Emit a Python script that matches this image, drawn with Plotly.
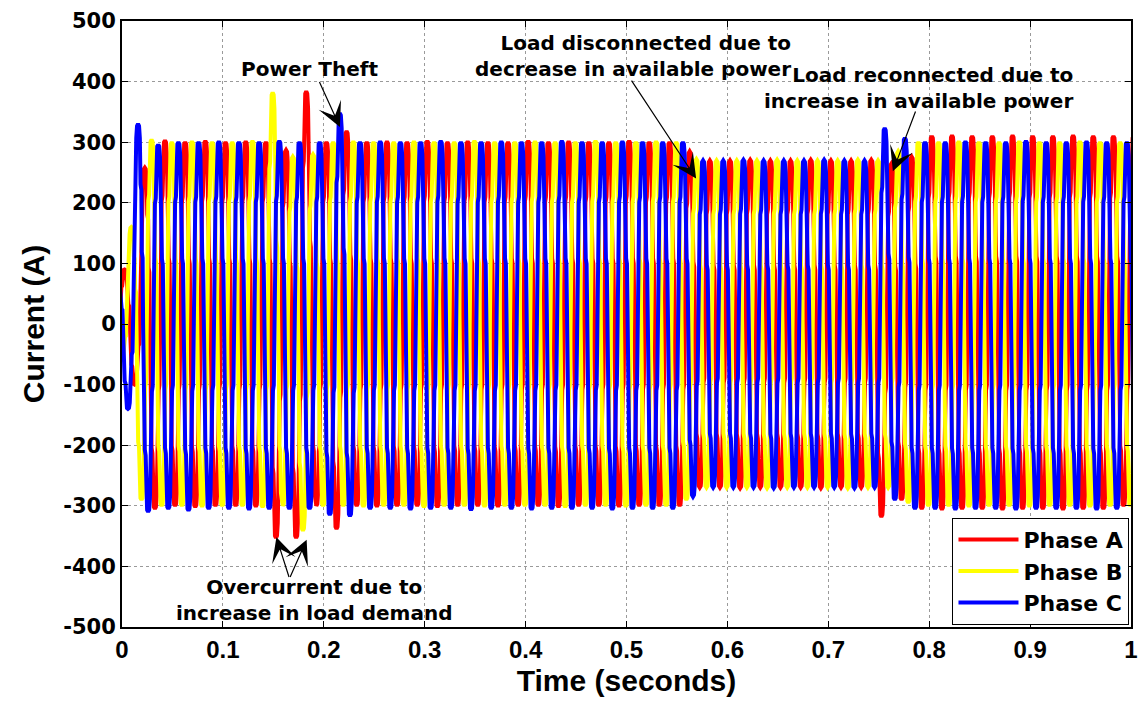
import numpy as np
import plotly.graph_objects as go

# ---------------- data ----------------
PERIOD = 0.02  # 50 Hz

# time of first positive / negative half-cycle peak for each phase (s)
A_POS_T0, A_NEG_T0 = 0.0026, -0.0074
B_POS_T0, B_NEG_T0 = 0.0093, -0.0007
C_POS_T0, C_NEG_T0 = -0.0041, 0.0059

# half-cycle peak currents (A), one value per cycle
phase_a_pos = [90, 258, 303, 300, 302, 300, 301, 300, 287, 384,
               300, 318, 300, 301, 300, 302, 300, 301, 300, 300,
               302, 300, 301, 300, 300, 302, 300, 300, 285, 270,
               270, 271, 270, 270, 271, 270, 270, 271, 265, 276,
               310, 311, 310, 310, 311, 310, 310, 311, 310, 310, 310]
phase_a_neg = [-30, -100, -305, -300, -302, -300, -300, -301, -353, -353,
               -300, -338, -300, -301, -300, -300, -302, -300, -300, -301,
               -300, -300, -302, -300, -300, -301, -300, -300, -300, -270,
               -270, -271, -270, -270, -270, -271, -270, -270, -318, -290,
               -305, -306, -305, -305, -306, -305, -305, -306, -305, -305, -300]
phase_b_pos = [160, 304, 300, 301, 300, 300, 302, 382, 276, 280,
               300, 301, 300, 300, 301, 300, 300, 302, 300, 300,
               301, 300, 300, 302, 300, 300, 301, 300, 272, 270,
               270, 270, 271, 270, 270, 270, 271, 270, 285, 300,
               300, 301, 300, 300, 301, 300, 300, 301, 300, 300, 300]
phase_b_neg = [-60, -290, -300, -300, -301, -300, -300, -302, -300, -341,
               -300, -300, -301, -300, -300, -302, -300, -300, -301, -300,
               -300, -300, -302, -300, -300, -301, -300, -300, -290, -270,
               -270, -270, -271, -270, -270, -270, -271, -270, -270, -295,
               -300, -300, -301, -300, -300, -301, -300, -300, -301, -300, -300]
phase_c_pos = [70, 330, 296, 300, 300, 301, 300, 300, 302, 300,
               300, 348, 300, 301, 300, 300, 302, 300, 300, 301,
               300, 300, 302, 300, 300, 301, 300, 300, 300, 270,
               270, 271, 270, 270, 270, 271, 270, 270, 323, 307,
               300, 300, 301, 300, 300, 302, 300, 300, 301, 300, 300]
phase_c_neg = [-140, -310, -305, -308, -305, -305, -306, -305, -305, -305,
               -315, -317, -305, -305, -306, -305, -305, -307, -305, -305,
               -306, -305, -305, -305, -306, -305, -305, -305, -285, -270,
               -270, -270, -271, -270, -270, -270, -271, -270, -290, -305,
               -305, -306, -305, -305, -306, -305, -305, -305, -306, -305, -305]

# stepped waveform, quarter cycle from zero crossing (deg) to peak: normalised level
QUARTER_ANGLES = [0, 8, 23, 31, 46, 58, 72, 90]
QUARTER_LEVELS = [0.0, 0.33, 0.36, 0.67, 0.70, 0.93, 0.99, 1.0]

SERIES = ["Phase A", "Phase B", "Phase C"]
COLORS = ["#ff0000", "#ffff00", "#0000ff"]

X_TICKS = [0, 0.1, 0.2, 0.3, 0.4, 0.5, 0.6, 0.7, 0.8, 0.9, 1.0]
X_LABELS = ["0", "0.1", "0.2", "0.3", "0.4", "0.5", "0.6", "0.7", "0.8", "0.9", "1"]
Y_TICKS = [-500, -400, -300, -200, -100, 0, 100, 200, 300, 400, 500]
Y_LABELS = ["-500", "-400", "-300", "-200", "-100", "0", "100", "200", "300", "400", "500"]


# ---------------- build the stepped waveforms ----------------
def half_cycle_shape():
    qa = np.array(QUARTER_ANGLES, dtype=float)
    ql = np.array(QUARTER_LEVELS, dtype=float)
    ang = np.concatenate([qa, 180.0 - qa[::-1][1:]])
    lev = np.concatenate([ql, ql[::-1][1:]])
    return ang, lev


SHAPE_ANG, SHAPE_LEV = half_cycle_shape()


def build_phase(pos_t0, pos_vals, neg_t0, neg_vals):
    ts, ys = [], []
    for t0, vals in ((pos_t0, pos_vals), (neg_t0, neg_vals)):
        for k, v in enumerate(vals):
            tc = t0 + k * PERIOD
            ts.append(tc + (SHAPE_ANG - 90.0) / 360.0 * PERIOD)
            ys.append(SHAPE_LEV * v)
    t = np.concatenate(ts)
    y = np.concatenate(ys)
    order = np.argsort(t, kind="stable")
    return t[order], y[order]


phases = [
    build_phase(A_POS_T0, phase_a_pos, A_NEG_T0, phase_a_neg),
    build_phase(B_POS_T0, phase_b_pos, B_NEG_T0, phase_b_neg),
    build_phase(C_POS_T0, phase_c_pos, C_NEG_T0, phase_c_neg),
]

fig = go.Figure()
for name, color, (t, y) in zip(SERIES, COLORS, phases):
    fig.add_trace(go.Scatter(x=t, y=y, mode="lines", name=name,
                             line=dict(color=color, width=4)))

BOLD_ARIAL = dict(family="Liberation Sans, Arial, sans-serif", color="black", weight="bold")
BOLD_DEJAVU = dict(family="DejaVu Sans, sans-serif", color="black", weight="bold")

axis_common = dict(showgrid=True, gridcolor="#9a9a9a", griddash="dot", gridwidth=1,
                   showline=True, linecolor="black", linewidth=2, mirror="ticks",
                   ticks="inside", ticklen=6, tickcolor="black", zeroline=False)

fig.update_layout(
    width=1147, height=704,
    margin=dict(l=122, r=9, t=15, b=77),
    plot_bgcolor="white", paper_bgcolor="white",
    showlegend=True,
    legend=dict(x=0.9985, y=0.004, xanchor="right", yanchor="bottom",
                bgcolor="white", bordercolor="black", borderwidth=1,
                font=dict(size=22, **BOLD_DEJAVU), itemwidth=60,
                tracegroupgap=0),
    xaxis=dict(range=[0, 1], tickvals=X_TICKS, ticktext=X_LABELS,
               tickfont=dict(size=24, **BOLD_ARIAL),
               title=dict(text="Time (seconds)", font=dict(size=30, **BOLD_ARIAL), standoff=8),
               **axis_common),
    yaxis=dict(range=[-500, 500], tickvals=Y_TICKS, ticktext=Y_LABELS,
               tickfont=dict(size=21, **BOLD_DEJAVU),
               title=dict(text="Current (A)", font=dict(size=30, **BOLD_ARIAL), standoff=10),
               **axis_common),
)

ann_font = dict(size=20, **BOLD_DEJAVU)
texts = [
    dict(x=0.186, y=421, text="Power Theft", xanchor="center", align="center"),
    dict(x=0.665, y=443, text="Load disconnected due to<br>decrease in available power",
         xanchor="right", align="right"),
    dict(x=0.944, y=389, text="Load reconnected due to<br>increase in available power",
         xanchor="right", align="right"),
    dict(x=0.191, y=-456, text="Overcurrent due to<br>increase in load demand",
         xanchor="center", align="center"),
]
for a in texts:
    fig.add_annotation(xref="x", yref="y", showarrow=False, yanchor="middle",
                       font=ann_font, **a)

arrows = [
    # (tail_t, tail_y, tip_t, tip_y)
    (0.195, 402, 0.216, 325),
    (0.504, 404, 0.569, 240),
    (0.787, 353, 0.764, 252),
    (0.166, -420, 0.153, -352),
    (0.166, -420, 0.183, -356),
]
for tx, ty, hx, hy in arrows:
    fig.add_annotation(x=hx, y=hy, ax=tx, ay=ty, xref="x", yref="y", axref="x", ayref="y",
                       text="", showarrow=True, arrowhead=3, arrowsize=3.4,
                       arrowwidth=1.2, arrowcolor="black")

fig.write_html("out.html")
